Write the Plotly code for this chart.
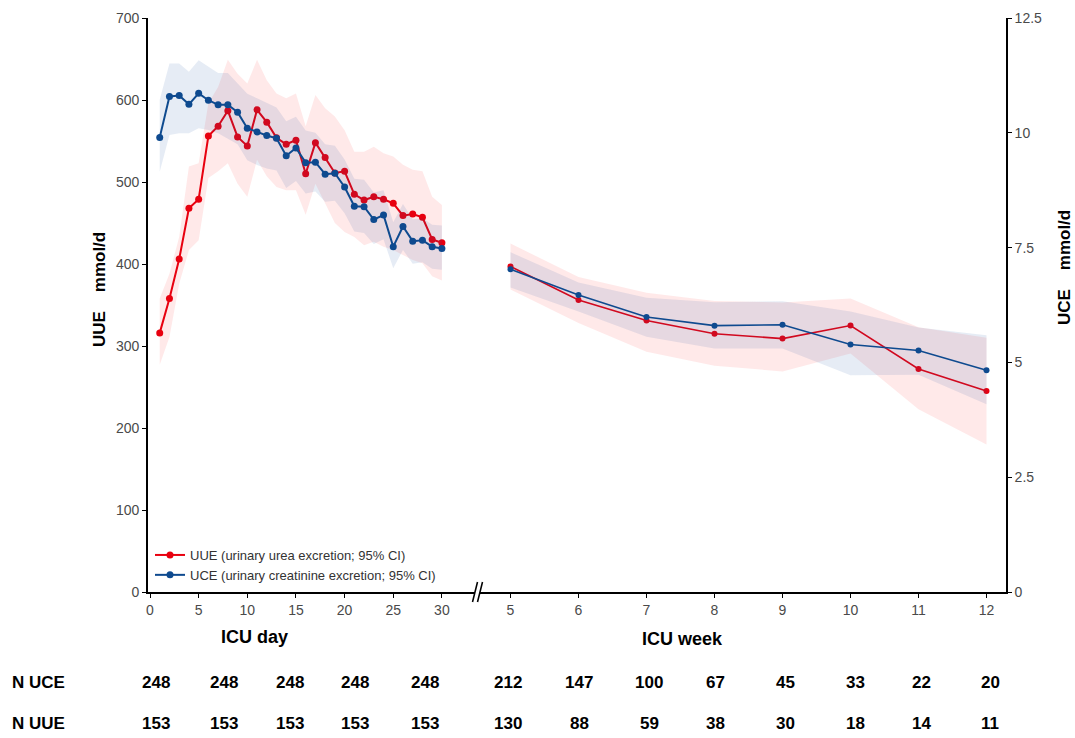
import plotly.graph_objects as go

# ---------------- data ----------------
days = list(range(1, 31))
uue_day = [316, 358, 406, 468, 479, 556, 568, 587, 555, 544, 588, 573, 554, 546, 551,
           510, 548, 530, 511, 513, 485, 478, 482, 479, 474, 459, 461, 457, 430, 426]
uue_day_lo = [277, 311, 376, 417, 429, 505, 513, 523, 498, 482, 527, 507, 494, 490, 490,
              460, 498, 474, 450, 439, 433, 423, 427, 421, 417, 411, 405, 401, 385, 380]
uue_day_hi = [358, 388, 433, 519, 523, 596, 616, 649, 632, 620, 649, 624, 608, 602, 608,
              568, 606, 590, 580, 563, 537, 537, 543, 535, 531, 521, 515, 513, 482, 472]

uce_day = [9.90, 10.79, 10.81, 10.62, 10.86, 10.71, 10.61, 10.61, 10.45, 10.10, 10.02, 9.94,
           9.88, 9.50, 9.67, 9.35, 9.36, 9.10, 9.12, 8.82, 8.40, 8.39, 8.11, 8.21, 7.52,
           7.96, 7.64, 7.66, 7.52, 7.48]
uce_day_lo = [9.15, 9.95, 9.99, 9.99, 10.10, 10.06, 9.99, 9.87, 9.75, 9.40, 9.30, 9.22,
              9.18, 8.80, 8.95, 8.68, 8.72, 8.50, 8.52, 8.25, 7.85, 7.82, 7.58, 7.68, 7.05,
              7.45, 7.15, 7.18, 7.04, 7.02]
uce_day_hi = [10.72, 11.51, 11.51, 11.33, 11.58, 11.44, 11.30, 11.30, 11.08, 10.85, 10.75,
              10.65, 10.55, 10.25, 10.35, 10.05, 10.00, 9.75, 9.72, 9.42, 9.00, 8.98, 8.70,
              8.75, 8.05, 8.45, 8.12, 8.14, 8.00, 7.98]

weeks = [5, 6, 7, 8, 9, 10, 11, 12]
uue_wk = [397, 356, 331, 315, 309, 325, 272, 245]
uue_wk_lo = [369, 328, 293, 276, 269, 291, 223, 180]
uue_wk_hi = [425, 384, 365, 355, 353, 358, 323, 310]
uce_wk = [7.03, 6.47, 5.99, 5.80, 5.82, 5.39, 5.26, 4.83]
uce_wk_lo = [6.63, 6.11, 5.56, 5.30, 5.30, 4.72, 4.73, 4.09]
uce_wk_hi = [7.40, 6.74, 6.41, 6.31, 6.33, 6.11, 5.76, 5.59]

day_ticks = [0, 5, 10, 15, 20, 25, 30]
week_ticks = [5, 6, 7, 8, 9, 10, 11, 12]
uue_ticks = [0, 100, 200, 300, 400, 500, 600, 700]
uce_ticks = [0, 2.5, 5, 7.5, 10, 12.5]

n_uce = [248, 248, 248, 248, 248, 212, 147, 100, 67, 45, 33, 22, 20]
n_uue = [153, 153, 153, 153, 153, 130, 88, 59, 38, 30, 18, 14, 11]

# ---------------- styling ----------------
RED = "#E8000F"
BLUE = "#0E4A8F"
RED_FILL = "rgba(255,40,40,0.10)"
BLUE_FILL = "rgba(30,80,160,0.11)"
FONT = "Arial, Liberation Sans, sans-serif"
TICKC = "#4a4a4a"

W, H = 1075, 738
L, R, T, B = 148, 69, 18, 146
PW, PH = W - L - R, H - T - B


def px(xp):
    return (xp - L) / PW


def py(yp):
    return (H - B - yp) / PH


fig = go.Figure()


def band(x, lo, hi, color, xa, ya):
    fig.add_trace(go.Scatter(
        x=list(x) + list(x)[::-1], y=list(hi) + list(lo)[::-1],
        fill="toself", fillcolor=color, line=dict(width=0), mode="lines",
        hoverinfo="skip", showlegend=False, xaxis=xa, yaxis=ya))


band(days, uue_day_lo, uue_day_hi, RED_FILL, "x", "y")
band(days, uce_day_lo, uce_day_hi, BLUE_FILL, "x", "y2")
band(weeks, uue_wk_lo, uue_wk_hi, RED_FILL, "x2", "y")
band(weeks, uce_wk_lo, uce_wk_hi, BLUE_FILL, "x2", "y2")

fig.add_trace(go.Scatter(x=days, y=uce_day, mode="lines+markers",
                         line=dict(color=BLUE, width=2), marker=dict(size=7, color=BLUE),
                         name="UCE (urinary creatinine excretion; 95% CI)", legendrank=2,
                         xaxis="x", yaxis="y2"))
fig.add_trace(go.Scatter(x=days, y=uue_day, mode="lines+markers",
                         line=dict(color=RED, width=2), marker=dict(size=7, color=RED),
                         name="UUE (urinary urea excretion; 95% CI)", legendrank=1,
                         xaxis="x", yaxis="y"))
fig.add_trace(go.Scatter(x=weeks, y=uce_wk, mode="lines+markers",
                         line=dict(color=BLUE, width=1.6), marker=dict(size=6, color=BLUE),
                         showlegend=False, xaxis="x2", yaxis="y2"))
fig.add_trace(go.Scatter(x=weeks, y=uue_wk, mode="lines+markers",
                         line=dict(color=RED, width=1.6), marker=dict(size=6, color=RED),
                         showlegend=False, xaxis="x2", yaxis="y"))

axis_common = dict(showline=True, linecolor="black", linewidth=1.6, ticks="outside",
                   ticklen=4, tickwidth=1.2, tickcolor="black", showgrid=False,
                   zeroline=False, tickfont=dict(family=FONT, size=14, color=TICKC))

# day axis: px 148..475 ; day0 at 150, 9.73 px/day
fig.update_layout(
    xaxis=dict(domain=[0, px(475)], range=[-2 / 9.73, (475 - 150) / 9.73],
               tickvals=day_ticks, anchor="y", **axis_common),
    xaxis2=dict(domain=[px(480), 1], range=[5 - 30.5 / 68, 12 + 19.5 / 68],
                tickvals=week_ticks, anchor="y", **axis_common),
    yaxis=dict(range=[0, 700], tickvals=uue_ticks, anchor="x", **axis_common),
    yaxis2=dict(range=[0, 12.5], tickvals=uce_ticks, overlaying="y", side="right",
                anchor="x2", **axis_common),
)

# break marks
for x0 in (472.5, 477.5):
    fig.add_shape(type="line", xref="paper", yref="paper",
                  x0=px(x0), y0=py(602), x1=px(x0 + 5), y1=py(582),
                  line=dict(color="black", width=1.6))

ann = []
ann.append(dict(text="<b>UUE\u00a0\u00a0\u00a0\u00a0mmol/d</b>", x=px(99), y=py(290), textangle=-90,
                font=dict(family=FONT, size=17, color="black"), showarrow=False,
                xref="paper", yref="paper", xanchor="center", yanchor="middle"))
ann.append(dict(text="<b>UCE\u00a0\u00a0\u00a0\u00a0mmol/d</b>", x=px(1064), y=py(268), textangle=-90,
                font=dict(family=FONT, size=17, color="black"), showarrow=False,
                xref="paper", yref="paper", xanchor="center", yanchor="middle"))
ann.append(dict(text="<b>ICU day</b>", x=px(254), y=py(637), showarrow=False,
                font=dict(family=FONT, size=18, color="black"),
                xref="paper", yref="paper", xanchor="center", yanchor="middle"))
ann.append(dict(text="<b>ICU week</b>", x=px(682), y=py(639), showarrow=False,
                font=dict(family=FONT, size=18, color="black"),
                xref="paper", yref="paper", xanchor="center", yanchor="middle"))

col_px = [156, 224, 290, 355, 425, 508, 579, 649, 715, 785, 855, 921, 990]
for label, vals, yp in (("N UCE", n_uce, 682), ("N UUE", n_uue, 724)):
    ann.append(dict(text="<b>" + label + "</b>", x=px(10), y=py(yp), showarrow=False,
                    font=dict(family=FONT, size=17, color="black"),
                    xref="paper", yref="paper", xanchor="left", yanchor="middle"))
    for cx, v in zip(col_px, vals):
        ann.append(dict(text="<b>%d</b>" % v, x=px(cx), y=py(yp), showarrow=False,
                        font=dict(family=FONT, size=17, color="black"),
                        xref="paper", yref="paper", xanchor="center", yanchor="middle"))

fig.update_layout(
    width=W, height=H, margin=dict(l=L, r=R, t=T, b=B, autoexpand=False),
    paper_bgcolor="white", plot_bgcolor="white",
    annotations=ann,
    legend=dict(x=px(150), y=py(590), xanchor="left", yanchor="bottom",
                bgcolor="rgba(0,0,0,0)", font=dict(family=FONT, size=13, color="#333333"),
                itemwidth=30, tracegroupgap=0),
    showlegend=True,
)

fig.write_html("out.html", config={"displayModeBar": False},
               post_script="document.body.style.margin='0';document.body.style.overflow='hidden';")
